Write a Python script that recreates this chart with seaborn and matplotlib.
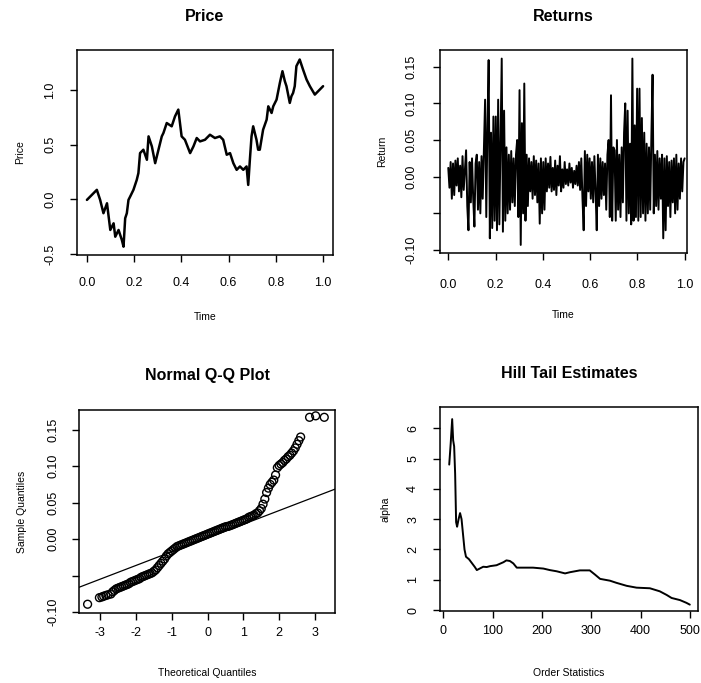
import numpy as np
import pandas as pd
import matplotlib
matplotlib.use("Agg")
import matplotlib.pyplot as plt
import seaborn as sns

# ---------------- data ----------------
price_time = [0.000, 0.021, 0.042, 0.056, 0.063, 0.070, 0.085, 0.099, 0.113, 0.120,
              0.134, 0.148, 0.155, 0.162, 0.169, 0.176, 0.183, 0.197, 0.211, 0.218,
              0.225, 0.239, 0.254, 0.261, 0.275, 0.289, 0.303, 0.317, 0.324, 0.338,
              0.359, 0.373, 0.387, 0.401, 0.415, 0.437, 0.451, 0.465, 0.479, 0.500,
              0.521, 0.542, 0.563, 0.577, 0.592, 0.606, 0.620, 0.634, 0.648, 0.662,
              0.676, 0.683, 0.690, 0.697, 0.704, 0.718, 0.725, 0.732, 0.746, 0.761,
              0.768, 0.782, 0.789, 0.803, 0.817, 0.828, 0.838, 0.845, 0.859, 0.866,
              0.873, 0.880, 0.887, 0.901, 0.915, 0.930, 0.944, 0.965, 0.986, 1.000]
price_values = [-0.006, 0.040, 0.086, -0.006, -0.067, -0.128, -0.037, -0.281, -0.220, -0.343,
                -0.281, -0.373, -0.434, -0.174, -0.128, -0.006, 0.024, 0.086, 0.177, 0.239,
                0.422, 0.453, 0.361, 0.575, 0.483, 0.330, 0.453, 0.575, 0.606, 0.697,
                0.667, 0.758, 0.820, 0.575, 0.544, 0.422, 0.483, 0.560, 0.529, 0.544,
                0.590, 0.560, 0.575, 0.544, 0.407, 0.422, 0.330, 0.269, 0.300, 0.269,
                0.300, 0.131, 0.361, 0.575, 0.667, 0.544, 0.453, 0.453, 0.636, 0.728,
                0.850, 0.789, 0.850, 0.911, 1.064, 1.171, 1.080, 1.034, 0.881, 0.942,
                0.972, 1.034, 1.217, 1.278, 1.187, 1.095, 1.034, 0.957, 1.003, 1.034]

returns_values = [
    0.012, -0.015, 0.020, -0.030, 0.018, -0.025, 0.022, -0.012, 0.025, -0.020,
    0.015, -0.028, 0.028, -0.018, 0.010, 0.036, -0.040, -0.073, 0.020, -0.035,
    0.025, -0.030, -0.068, 0.018, 0.030, -0.045, 0.020, -0.050, 0.028, -0.030,
    0.040, 0.105, -0.055, 0.070, 0.159, -0.084, 0.060, -0.070, 0.082, -0.060,
    0.082, -0.073, 0.105, -0.065, 0.050, 0.161, -0.075, 0.090, -0.060, 0.040,
    -0.050, 0.030, -0.045, 0.035, -0.035, 0.025, -0.040, 0.030, 0.050, -0.055,
    0.118, -0.093, 0.073, -0.050, 0.127, -0.060, 0.030, -0.040, 0.025, -0.020,
    0.020, -0.030, 0.028, -0.025, 0.022, -0.035, 0.018, -0.064, 0.025, -0.050,
    0.020, -0.045, 0.025, -0.020, 0.018, -0.015, 0.027, -0.020, 0.012, -0.018,
    0.022, -0.025, 0.015, -0.012, 0.028, -0.020, 0.010, -0.015, 0.020, -0.010,
    0.010, -0.012, 0.018, -0.008, 0.012, -0.015, 0.008, -0.010, 0.015, -0.012,
    0.020, -0.018, 0.025, -0.030, -0.073, 0.035, -0.040, 0.030, -0.020, 0.025,
    -0.030, 0.020, -0.035, 0.028, -0.020, -0.073, 0.030, -0.040, 0.025, -0.030,
    0.020, -0.025, 0.018, -0.045, 0.030, 0.050, -0.055, 0.111, -0.060, 0.040,
    0.036, -0.060, 0.050, -0.045, 0.030, -0.055, 0.040, -0.035, 0.060, 0.100,
    -0.060, 0.090, -0.050, 0.045, -0.065, 0.161, -0.060, 0.070, -0.055, 0.120,
    -0.060, 0.120, -0.055, 0.080, -0.050, 0.060, -0.060, 0.045, -0.050, 0.040,
    -0.045, 0.055, 0.139, -0.050, 0.030, -0.040, 0.035, -0.045, 0.025, -0.030,
    0.030, -0.084, 0.025, -0.073, 0.028, -0.040, 0.020, -0.055, 0.022, -0.035,
    0.025, -0.050, 0.030, -0.045, 0.018, -0.030, 0.025, -0.020, 0.020, 0.025]

qq_theoretical = [
    -3.35, -3.02, -2.95, -2.90, -2.84, -2.78,
    -2.70, -2.65, -2.60, -2.55, -2.50, -2.45, -2.40, -2.35, -2.30, -2.25,
    -2.20, -2.15, -2.10, -2.05, -2.00, -1.95, -1.90, -1.85, -1.80, -1.75,
    -1.70, -1.65, -1.60, -1.55, -1.50, -1.45, -1.40, -1.35, -1.30, -1.25,
    -1.20, -1.15, -1.10, -1.05, -1.00, -0.95, -0.90, -0.85, -0.80, -0.75,
    -0.70, -0.65, -0.60, -0.55, -0.50, -0.45, -0.40, -0.35, -0.30, -0.25,
    -0.20, -0.15, -0.10, -0.05, 0.00, 0.05, 0.10, 0.15, 0.20, 0.25,
    0.30, 0.35, 0.40, 0.45, 0.50, 0.55, 0.60, 0.65, 0.70, 0.75,
    0.80, 0.85, 0.90, 0.95, 1.00, 1.05, 1.10, 1.15, 1.20, 1.25,
    1.30, 1.35, 1.40, 1.45, 1.50, 1.55, 1.60, 1.65, 1.70, 1.75,
    1.80, 1.85, 1.90, 1.95, 2.00, 2.05, 2.10, 2.15, 2.20, 2.25,
    2.30, 2.35, 2.40, 2.45, 2.50, 2.55, 2.60,
    2.85, 3.02, 3.26]
qq_sample = [
    -0.089, -0.080, -0.079, -0.078, -0.077, -0.076,
    -0.075, -0.072, -0.070, -0.068, -0.067, -0.066, -0.065, -0.064, -0.063, -0.062,
    -0.061, -0.059, -0.058, -0.057, -0.056, -0.055, -0.054, -0.052, -0.051, -0.050,
    -0.049, -0.048, -0.047, -0.046, -0.044, -0.042, -0.039, -0.036, -0.033, -0.030,
    -0.027, -0.023, -0.020, -0.018, -0.016, -0.014, -0.012, -0.010, -0.009, -0.008,
    -0.007, -0.006, -0.005, -0.004, -0.003, -0.002, -0.001, 0.000, 0.001, 0.002,
    0.003, 0.004, 0.005, 0.006, 0.007, 0.008, 0.009, 0.010, 0.011, 0.012,
    0.013, 0.014, 0.015, 0.016, 0.017, 0.0175, 0.018, 0.019, 0.020, 0.021,
    0.022, 0.023, 0.024, 0.025, 0.026, 0.027, 0.028, 0.030, 0.031, 0.032,
    0.033, 0.035, 0.036, 0.039, 0.042, 0.048, 0.055, 0.064, 0.070, 0.075,
    0.078, 0.081, 0.088, 0.098, 0.101, 0.103, 0.105, 0.108, 0.110, 0.113,
    0.115, 0.118, 0.121, 0.125, 0.130, 0.135, 0.140,
    0.167, 0.169, 0.167]
qq_line_intercept = 0.0017
qq_line_slope = 0.0188

hill_order = [12, 15, 18, 20, 22, 24, 26, 28, 31, 34, 37, 40, 43, 46, 52, 58, 64, 68,
              75, 81, 88, 95, 108, 122, 128, 135, 142, 149, 162, 182, 203, 216, 230,
              247, 257, 277, 297, 307, 318, 338, 351, 372, 392, 419, 439, 453, 463,
              480, 493, 500]
hill_alpha = [4.8, 5.5, 6.3, 5.6, 5.4, 4.5, 2.9, 2.75, 3.0, 3.2, 3.0, 2.5, 2.0, 1.76,
              1.68, 1.55, 1.42, 1.32, 1.38, 1.43, 1.42, 1.45, 1.48, 1.58, 1.64, 1.62,
              1.54, 1.40, 1.40, 1.40, 1.37, 1.32, 1.28, 1.21, 1.25, 1.31, 1.31, 1.18,
              1.03, 0.97, 0.90, 0.80, 0.74, 0.72, 0.62, 0.50, 0.40, 0.33, 0.24, 0.18]

price_ticks = [-0.5, 0.0, 0.5, 1.0]
time_ticks = [0.0, 0.2, 0.4, 0.6, 0.8, 1.0]
return_ticks = [-0.10, -0.05, 0.00, 0.05, 0.10, 0.15]
return_tick_labels = ["-0.10", "", "0.00", "0.05", "0.10", "0.15"]
qq_x_ticks = [-3, -2, -1, 0, 1, 2, 3]
hill_x_ticks = [0, 100, 200, 300, 400, 500]
hill_y_ticks = [0, 1, 2, 3, 4, 5, 6]

# ---------------- styling ----------------
sns.set_theme(style="ticks")
plt.rcParams['font.family'] = ['Liberation Sans', 'DejaVu Sans']
plt.rcParams['axes.edgecolor'] = 'black'
plt.rcParams['axes.linewidth'] = 1.0
plt.rcParams['text.color'] = 'black'
plt.rcParams['axes.labelcolor'] = 'black'
plt.rcParams['xtick.color'] = 'black'
plt.rcParams['ytick.color'] = 'black'

W, H = 701, 683
fig = plt.figure(figsize=(W / 100, H / 100), dpi=100)
fig.patch.set_facecolor('white')


def box(l, t, r, b):
    return [l / W, 1 - b / H, (r - l) / W, (b - t) / H]


ax1 = fig.add_axes(box(77, 50, 333, 255))
ax2 = fig.add_axes(box(440, 50, 687, 253))
ax3 = fig.add_axes(box(79, 410, 335, 613))
ax4 = fig.add_axes(box(440, 407, 698, 611))

TITLE_FS = 11.5
TICK_FS = 9
LAB_FS = 7.5


def style(ax, title, ty, xlabel, ylabel, xl_y, yl_x, xpad, ypad):
    ax.set_facecolor('white')
    for s in ax.spines.values():
        s.set_visible(True)
        s.set_color('black')
        s.set_linewidth(1.1)
    ax.set_title(title, fontsize=TITLE_FS, fontweight='bold', y=ty, va='center',
                 pad=0, color='black')
    ax.tick_params(axis='both', direction='out', length=5, width=1.0,
                   color='black', labelsize=TICK_FS, labelcolor='black')
    ax.tick_params(axis='x', pad=xpad)
    ax.tick_params(axis='y', pad=ypad, labelrotation=90)
    for lab in ax.get_yticklabels():
        lab.set_va('center')
    ax.set_xlabel(xlabel, fontsize=LAB_FS, color='black')
    ax.set_ylabel(ylabel, fontsize=LAB_FS, color='black')
    ax.xaxis.set_label_coords(0.5, xl_y)
    ax.xaxis.label.set_va('center')
    ax.yaxis.set_label_coords(yl_x, 0.5)
    ax.yaxis.label.set_va('center')
    ax.grid(False)


# Price
sns.lineplot(x=price_time, y=price_values, ax=ax1, color='black', lw=1.8,
             estimator=None, sort=False)
ax1.set_xlim(-0.042, 1.042)
ax1.set_ylim(-0.51, 1.365)
ax1.set_xticks(time_ticks)
ax1.set_xticklabels([f"{v:.1f}" for v in time_ticks])
ax1.set_yticks(price_ticks)
ax1.set_yticklabels([f"{v:.1f}" for v in price_ticks])
style(ax1, "Price", 1.161, "Time", "Price", -0.302, -0.223, 11, 10)

# Returns
returns_time = np.linspace(0, 1, len(returns_values))
sns.lineplot(x=returns_time, y=returns_values, ax=ax2, color='black', lw=1.4,
             estimator=None, sort=False)
ax2.set_xlim(-0.035, 1.01)
ax2.set_ylim(-0.104, 0.1727)
ax2.set_xticks(time_ticks)
ax2.set_xticklabels([f"{v:.1f}" for v in time_ticks])
ax2.set_yticks(return_ticks)
ax2.set_yticklabels(return_tick_labels)
style(ax2, "Returns", 1.163, "Time", "Return", -0.305, -0.235, 14, 11)

# Normal Q-Q
sns.scatterplot(x=qq_theoretical, y=qq_sample, ax=ax3, marker='o', s=32,
                facecolor='none', edgecolor='black', linewidth=1.0)
ax3.axline((0, qq_line_intercept), slope=qq_line_slope, color='black', lw=0.9)
ax3.set_xlim(-3.59, 3.56)
ax3.set_ylim(-0.101, 0.177)
ax3.set_xticks(qq_x_ticks)
ax3.set_xticklabels([str(v) for v in qq_x_ticks])
ax3.set_yticks(return_ticks)
ax3.set_yticklabels(return_tick_labels)
style(ax3, "Normal Q-Q Plot", 1.172, "Theoretical Quantiles", "Sample Quantiles",
      -0.296, -0.223, 5, 9)

# Hill
sns.lineplot(x=hill_order, y=hill_alpha, ax=ax4, color='black', lw=1.4,
             estimator=None, sort=False)
ax4.set_xlim(-6.7, 516.6)
ax4.set_ylim(-0.03, 6.7)
ax4.set_xticks(hill_x_ticks)
ax4.set_xticklabels([str(v) for v in hill_x_ticks])
ax4.set_yticks(hill_y_ticks)
ax4.set_yticklabels([str(v) for v in hill_y_ticks])
style(ax4, "Hill Tail Estimates", 1.166, "Order Statistics", "alpha",
      -0.302, -0.213, 5, 10)

fig.savefig("out.png", dpi=100, facecolor='white')
